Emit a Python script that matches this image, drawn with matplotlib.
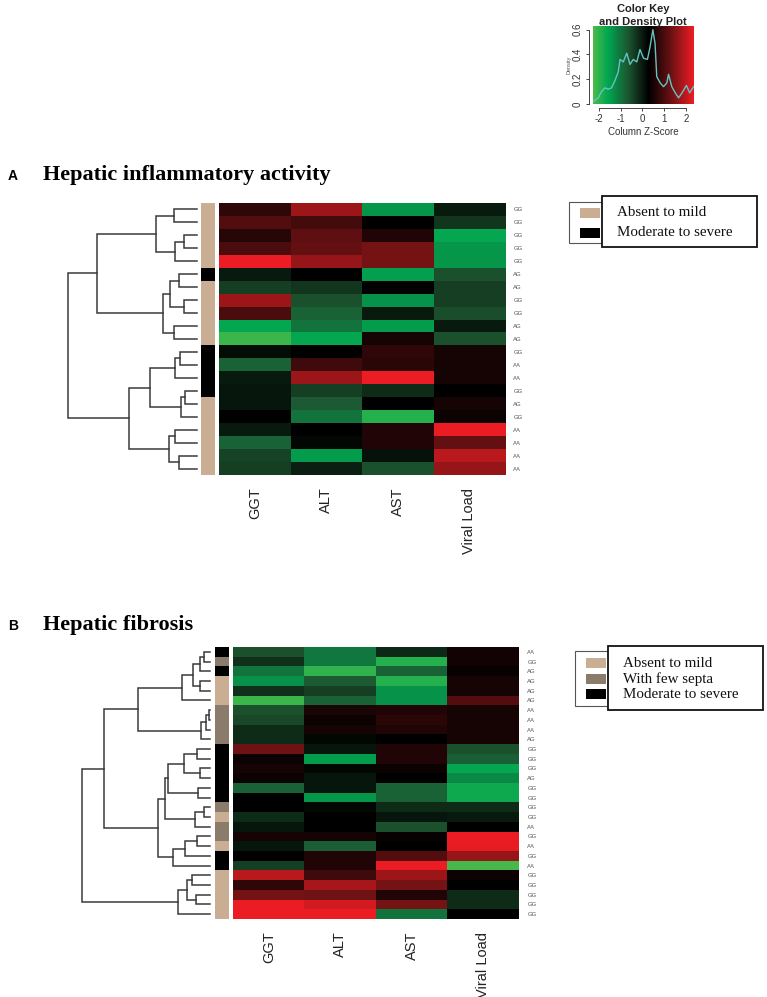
import numpy as np
import matplotlib
matplotlib.use("Agg")
import matplotlib.pyplot as plt
from matplotlib.colors import LinearSegmentedColormap, ListedColormap
from matplotlib.patches import Rectangle

W, H = 767, 997
SANS = "Liberation Sans"
SERIF = "Liberation Serif"

# ---- data ----
cols = ["GGT", "ALT", "AST", "Viral Load"]

# panel A: z-scores (rows top -> bottom), GGT, ALT, AST, Viral Load
z_a = [
    [0.75, 1.70, -1.40, 0.00],
    [1.10, 0.95, 0.28, -0.30],
    [0.65, 1.20, 0.60, -1.60],
    [1.00, 1.25, 1.40, -1.40],
    [2.35, 1.65, 1.40, -1.40],
    [0.00, 0.28, -1.50, -0.60],
    [-0.40, -0.30, 0.28, -0.40],
    [1.70, -0.60, -1.35, -0.40],
    [1.00, -0.80, 0.00, -0.55],
    [-1.60, -1.00, -1.45, 0.00],
    [-2.10, -1.60, 0.50, -0.60],
    [0.15, 0.28, 0.75, 0.50],
    [-0.80, 0.90, 0.70, 0.50],
    [0.00, 1.70, 2.35, 0.50],
    [0.05, -0.40, -0.20, 0.28],
    [0.05, -0.70, 0.28, 0.50],
    [0.28, -1.00, -1.90, 0.40],
    [0.00, 0.28, 0.60, 2.35],
    [-0.80, 0.20, 0.60, 1.25],
    [-0.45, -1.45, 0.10, 1.95],
    [-0.40, -0.05, -0.60, 1.65],
]
geno_a = ["GG", "GG", "GG", "GG", "GG", "AG", "AG", "GG", "GG", "AG", "AG",
          "GG", "AA", "AA", "GG", "AG", "GG", "AA", "AA", "AA", "AA"]
# 0 = absent to mild, 1 = moderate to severe
grade_a = [0, 0, 0, 0, 0, 1, 0, 0, 0, 0, 0, 1, 1, 1, 1, 0, 0, 0, 0, 0, 0]
# tree: [left, right, height]; leaves are row indices
tree_a = [
    [[[0, 1, 68], [[2, 3, 38], 4, 65], 122],
     [[[5, 6, 55], [7, 8, 38], 80], [9, 10, 70], 103], 300],
    [[[[11, 12, 50], 13, 67], [[14, 15, 35], 16, 48], 142],
     [[17, 18, 67], [19, 20, 53], 85], 203],
    387]
legend_a = ["Absent to mild", "Moderate to severe"]

# panel B
z_b = [
    [-0.60, -1.05, -0.15, 0.45],
    [-0.25, -1.05, -1.90, 0.45],
    [-1.00, -2.00, -0.80, 0.35],
    [-1.35, -0.70, -1.90, 0.50],
    [-0.25, -0.40, -1.35, 0.50],
    [-2.10, -0.80, -1.35, 1.10],
    [-0.60, 0.55, 0.60, 0.50],
    [-0.50, 0.40, 0.70, 0.50],
    [-0.20, 0.50, 0.60, 0.50],
    [-0.20, 0.20, 0.30, 0.50],
    [1.35, 0.05, 0.60, -0.60],
    [0.40, -1.45, 0.60, -0.75],
    [0.50, 0.20, 0.40, -1.60],
    [0.40, 0.05, 0.28, -1.25],
    [-0.80, 0.05, -0.80, -1.70],
    [0.28, -1.40, -0.80, -1.70],
    [0.28, 0.20, -0.20, -0.20],
    [-0.20, 0.28, 0.05, 0.00],
    [0.05, 0.28, -0.60, 0.28],
    [0.50, 0.50, 0.35, 2.35],
    [0.05, -0.75, 0.28, 2.30],
    [0.28, 0.60, 1.10, 1.65],
    [-0.40, 0.60, 2.35, -2.20],
    [1.95, 0.90, 1.70, 0.40],
    [0.75, 1.80, 1.40, 0.28],
    [1.40, 1.35, 0.60, -0.20],
    [2.35, 2.15, 1.40, -0.20],
    [2.35, 2.35, -1.00, 0.28],
]
geno_b = ["AA", "GG", "AG", "AG", "AG", "AG", "AA", "AA", "AA", "AG", "GG", "GG",
          "GG", "AG", "GG", "GG", "GG", "GG", "AA", "GG", "AA", "GG", "AA", "GG",
          "GG", "GG", "GG", "GG"]
# 0 = absent to mild, 1 = with few septa, 2 = moderate to severe
grade_b = [2, 1, 2, 0, 0, 0, 1, 1, 1, 1, 2, 2, 2, 2, 2, 2, 1, 0, 1, 1, 0, 2,
           2, 0, 0, 0, 0, 0]
tree_b = [
    [[[[[0, 1, 18], 2, 30], [3, 4, 30], 50], 5, 85],
     [[[6, 7, 4], 8, 12], 9, 28], 218],
    [[[[[10, 11, 40], [12, 13, 30], 77], [14, 15, 35], 125],
      [[16, 17, 18], 18, 45], 135],
     [[[19, 20, 40], 21, 75], 22, 110], 157],
    318]
tree_b = [tree_b, [[[23, 24, 55], [25, 26, 42], 70], 27, 95], 385]
legend_b = ["Absent to mild", "With few septa", "Moderate to severe"]

# density curve of the colour key
dens_x = [-2.26, -2.03, -1.88, -1.72, -1.57, -1.42, -1.26, -1.11, -1.03, -0.88,
          -0.72, -0.57, -0.42, -0.26, -0.11, 0.05, 0.23, 0.35, 0.48, 0.58,
          0.66, 0.82, 0.97, 1.12, 1.20, 1.35, 1.51, 1.66, 1.82, 2.02, 2.17, 2.35]
dens_y = [0.02, 0.05, 0.10, 0.13, 0.12, 0.13, 0.19, 0.26, 0.36, 0.34,
          0.41, 0.32, 0.36, 0.34, 0.44, 0.37, 0.36, 0.46, 0.60, 0.49,
          0.22, 0.17, 0.14, 0.17, 0.24, 0.14, 0.09, 0.05, 0.09, 0.15, 0.09, 0.14]
zmin, zmax = -2.27, 2.37

tan = "#c9ae93"
septa = "#8b7b6a"
cmap = LinearSegmentedColormap.from_list(
    "gr", [(0.0, "#4cbb4a"), (0.15, "#00a651"), (0.35, "#1d5530"), (0.55, "#000000"),
           (0.78, "#6e1214"), (1.0, "#ee1d24")])

fig = plt.figure(figsize=(W / 100, H / 100), dpi=100)


def box(x0, y0, x1, y1):
    return [x0 / W, 1 - y1 / H, (x1 - x0) / W, (y1 - y0) / H]


def draw_tree(ax, node):
    if isinstance(node, int):
        return node, 0
    left, right, h = node
    yl, hl = draw_tree(ax, left)
    yr, hr = draw_tree(ax, right)
    ax.plot([hl, h, h, hr], [yl, yl, yr, yr], color="#3a3a3a", lw=1.1,
            solid_joinstyle="miter", clip_on=False)
    return (yl + yr) / 2, h


def panel(z, geno, grade, tree, side_colors, x_root, x_leaf, x_side, x_hm, y0, y1):
    z = np.array(z)
    n = len(z)
    # dendrogram
    ax = fig.add_axes(box(x_root, y0, x_leaf, y1))
    draw_tree(ax, tree)
    ax.set_xlim(tree[2], 0)
    ax.set_ylim(n - 0.5, -0.5)
    ax.axis("off")
    # side colour bar
    ax = fig.add_axes(box(x_side, y0, x_side + 14, y1))
    ax.imshow(np.array(grade)[:, None], cmap=ListedColormap(side_colors),
              vmin=0, vmax=len(side_colors) - 1, aspect="auto", interpolation="nearest")
    ax.axis("off")
    # heatmap
    ax = fig.add_axes(box(x_hm, y0, x_hm + 286, y1))
    ax.imshow(z, cmap=cmap, vmin=zmin, vmax=zmax, aspect="auto", interpolation="nearest")
    for s in ax.spines.values():
        s.set_visible(False)
    ax.set_xticks(range(len(cols)))
    ax.set_xticklabels(cols, rotation=90, fontsize=10.5, family=SANS, color="#222222",
                       va="top", ha="center")
    ax.tick_params(axis="x", length=0, pad=9)
    ax.yaxis.tick_right()
    ax.set_yticks(range(n))
    ax.set_yticklabels(geno, fontsize=4.3, family=SANS, color="#555555")
    ax.tick_params(axis="y", length=0, pad=6)


def legend(labels, colors, x_out, y_out0, y_out1, x_in0, x_in1, y_in0, y_in1, ys):
    fig.patches.append(Rectangle((x_out / W, 1 - y_out1 / H), (x_in0 + 20 - x_out) / W,
                                 (y_out1 - y_out0) / H, transform=fig.transFigure,
                                 fill=False, ec="#555555", lw=0.8))
    for lab, c, yc in zip(labels, colors, ys):
        fig.patches.append(Rectangle(((x_out + 11) / W, 1 - (yc + 5) / H), 20 / W, 10 / H,
                                     transform=fig.transFigure, color=c, lw=0))
    fig.patches.append(Rectangle((x_in0 / W, 1 - y_in1 / H), (x_in1 - x_in0) / W,
                                 (y_in1 - y_in0) / H, transform=fig.transFigure,
                                 fc="white", ec="#111111", lw=1.3, zorder=3))
    for lab, yc in zip(labels, ys):
        fig.text((x_in0 + 15) / W, 1 - yc / H, lab, family=SERIF, fontsize=10.8,
                 va="center", ha="left", color="#111111", zorder=4)


# ---- panel A ----
fig.text(8 / W, 1 - 180 / H, "A", family=SANS, weight="bold", fontsize=10, va="baseline")
fig.text(43 / W, 1 - 180 / H, "Hepatic inflammatory activity", family=SERIF,
         weight="bold", fontsize=16, va="baseline")
panel(z_a, geno_a, grade_a, tree_a, [tan, "#000000"], 68, 197, 201, 219, 203, 475)
legend(legend_a, [tan, "#000000"], 569, 202, 243, 602, 757, 196, 247, [213, 233])

# ---- panel B ----
fig.text(8 / W, 1 - 630 / H, "B", family=SANS, weight="bold", fontsize=10, va="baseline")
fig.text(43 / W, 1 - 630 / H, "Hepatic fibrosis", family=SERIF,
         weight="bold", fontsize=16, va="baseline")
panel(z_b, geno_b, grade_b, tree_b, [tan, septa, "#000000"], 82, 210, 215, 233, 647, 919)
legend(legend_b, [tan, septa, "#000000"], 575, 651, 706, 608, 763, 646, 710, [663, 679, 694])

# ---- colour key ----
ax = fig.add_axes(box(593, 26, 694, 104))
grad = np.linspace(zmin, zmax, 256)[None, :]
ax.imshow(grad, cmap=cmap, vmin=zmin, vmax=zmax, aspect="auto",
          extent=[zmin, zmax, 0, 0.63], interpolation="bilinear")
ax.plot(dens_x, dens_y, color="#62c3c3", lw=1.0)
ax.set_xlim(zmin, zmax)
ax.set_ylim(0, 0.63)
ax.spines["top"].set_visible(False)
ax.spines["right"].set_visible(False)
ax.spines["left"].set_bounds(0, 0.6)
ax.spines["bottom"].set_bounds(-2, 2)
ax.spines["left"].set_position(("outward", 3))
ax.spines["bottom"].set_position(("outward", 3))
for s in ("left", "bottom"):
    ax.spines[s].set_color("#444444")
    ax.spines[s].set_linewidth(0.7)
ax.set_xticks([-2, -1, 0, 1, 2])
ax.set_xticklabels(["-2", "-1", "0", "1", "2"], family=SANS, fontsize=7, color="#333333")
ax.set_yticks([0, 0.2, 0.4, 0.6])
ax.set_yticklabels(["0", "0.2", "0.4", "0.6"], family=SANS, fontsize=7, color="#333333",
                   rotation=90, va="center")
ax.tick_params(length=2.5, width=0.7, color="#444444", pad=2)
ax.set_xlabel("Column Z-Score", family=SANS, fontsize=7, color="#333333", labelpad=2)
ax.set_ylabel("Density", family=SANS, fontsize=4, color="#555555", labelpad=1)
fig.text(643 / W, 1 - 9 / H, "Color Key", family=SANS, weight="bold", fontsize=8,
         ha="center", va="center", color="#222222")
fig.text(643 / W, 1 - 22 / H, "and Density Plot", family=SANS, weight="bold", fontsize=8,
         ha="center", va="center", color="#222222")

fig.savefig("out.png", dpi=100)
